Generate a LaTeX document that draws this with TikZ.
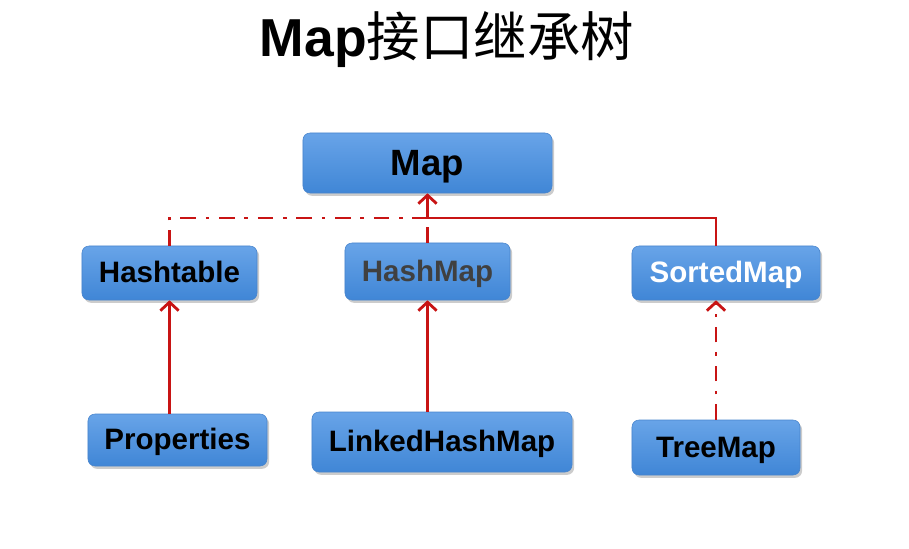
\documentclass[tikz,border=0pt]{standalone}
\usepackage{fontspec}
\setmainfont{Liberation Sans}
\newfontfamily\cjk{Noto Sans CJK SC}
\usetikzlibrary{positioning,arrows.meta,shadows,calc}
\definecolor{boxtop}{RGB}{104,164,232}
\definecolor{boxbot}{RGB}{64,134,214}
\definecolor{boxline}{RGB}{72,132,204}
\definecolor{relcol}{RGB}{200,20,20}

\begin{document}
\begin{tikzpicture}[x=0.025cm, y=-0.025cm,
  cls/.style={rectangle, draw=boxline, top color=boxtop, bottom color=boxbot,
              rounded corners=5pt, font=\bfseries\fontsize{21}{24}\selectfont,
              minimum height=1.35cm, text=black, text height=15pt, text depth=1pt,
              drop shadow={opacity=0.4, shadow xshift=1.5pt, shadow yshift=-2pt}},
  ext/.style={relcol, line width=2pt},
  impl/.style={relcol, line width=2pt, dash pattern=on 11pt off 7pt on 2.5pt off 7pt},
  tip/.style={-{Straight Barb[length=6pt,width=13pt]}},
]
\useasboundingbox (0,0) rectangle (909,548);

\node[font=\bfseries\fontsize{38}{44}\selectfont] (title) at (447,40)
  {Map{\cjk\mdseries 接口继承树}};

\node[cls, minimum width=6.225cm, minimum height=1.5cm, text height=18.6pt,
      font=\bfseries\fontsize{26}{30}\selectfont] (map) at (427.5,163) {Map};

\node[cls, minimum width=4.375cm] (ht) at (169.5,273) {Hashtable};
\node[cls, minimum width=4.125cm, minimum height=1.425cm, text=black!75] (hm) at (427.5,271.5) {HashMap};
\node[cls, minimum width=4.7cm, text=white] (sm) at (726,273) {SortedMap};

\node[cls, minimum width=4.475cm, minimum height=1.3cm] (prop) at (177.5,440) {Properties};
\node[cls, minimum width=6.5cm, minimum height=1.5cm] (lhm) at (442,442) {LinkedHashMap};
\node[cls, minimum width=4.2cm, minimum height=1.375cm] (tm) at (716,447.5) {TreeMap};

% joins above the second row
\coordinate (j) at (427.5,218);
\draw[impl] (ht.north) |- (j);
\draw[ext] (tm.north |- sm.north) |- (j);
\draw[impl] (hm.north) -- (j);
\draw[ext,tip] (j) -- (map.south);

\draw[ext,tip] (ht.south |- prop.north) -- (ht.south);
\draw[ext,tip] (hm.south |- lhm.north) -- (hm.south);
\draw[impl,tip] (tm.north) -- (tm.north |- sm.south);

\end{tikzpicture}
\end{document}
